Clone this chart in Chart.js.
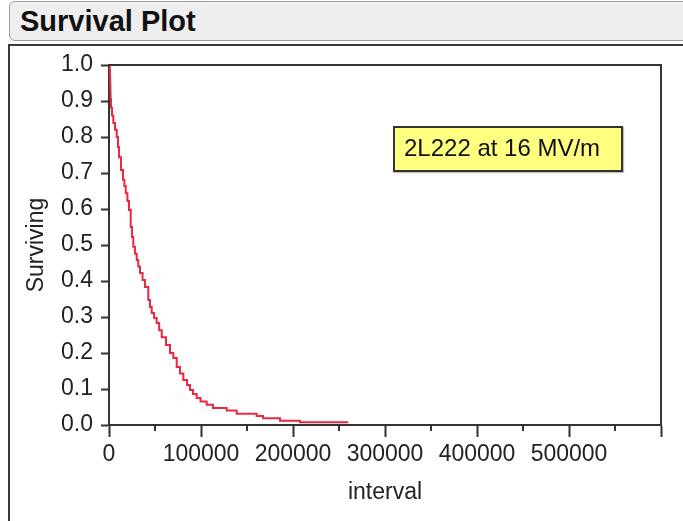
<!DOCTYPE html>
<html>
<head>
<meta charset="utf-8">
<script src="https://cdn.jsdelivr.net/npm/chart.js@4/dist/chart.umd.min.js"></script>
<style>
  html, body { margin: 0; padding: 0; background: #fff; }
  body { width: 683px; height: 521px; position: relative; overflow: hidden; font-family: "Liberation Sans", Arial, sans-serif; }
  .header {
    position: absolute; left: 9px; top: 1px; width: 700px; height: 40px;
    background: #eeeeee; border: 1px solid #9c9c9c; border-radius: 6px;
    font-weight: bold; font-size: 29px; line-height: 39px; color: #111;
    padding-left: 10px; box-sizing: border-box;
  }
  .frame {
    position: absolute; left: 8px; top: 44px; width: 720px; height: 520px;
    border-left: 2px solid #3a3a3a; border-top: 2px solid #3a3a3a;
  }
  .note {
    position: absolute; left: 393px; top: 126px; width: 230px; height: 46px;
    box-sizing: border-box; background: #ffff80; border: 2px solid #333;
    font-size: 24px; line-height: 40px; padding-left: 9px; color: #111;
    box-shadow: 1px 1px 1px rgba(0,0,0,0.25); white-space: nowrap;
  }
  canvas { position: absolute; left: 0; top: 0; }
</style>
</head>
<body>
<div class="header">Survival Plot</div>
<div class="frame"></div>
<canvas id="c" width="683" height="521"></canvas>
<div class="note">2L222 at 16 MV/m</div>
<script>
// Kaplan-Meier survival estimate against interval
const intervals = [0, 900, 1100, 1300, 1500, 1700, 2200, 3300, 4700, 6500, 8400, 9800, 10900, 13000, 15200,
  16700, 18200, 20000, 21700, 23600, 25000, 26400, 28200, 30100, 31800, 33700, 36500, 39100, 42700,
  44600, 46400, 49000, 51800, 54500, 57300, 62000, 66300, 69900, 73600, 77200, 80800, 84800, 88000,
  91300, 95300, 99500, 106200, 113000, 127900, 138800, 160500, 167400, 185900, 207600, 260100];
const surviving = [1.0, 0.985, 0.965, 0.945, 0.925, 0.905, 0.881, 0.86, 0.839, 0.82, 0.800, 0.772, 0.744,
  0.708, 0.681, 0.664, 0.644, 0.622, 0.597, 0.550, 0.522, 0.495, 0.476, 0.458, 0.44, 0.422, 0.403,
  0.383, 0.347, 0.328, 0.311, 0.297, 0.283, 0.263, 0.244, 0.222, 0.200, 0.186, 0.161, 0.143, 0.125,
  0.111, 0.097, 0.086, 0.075, 0.065, 0.056, 0.047, 0.040, 0.031, 0.025, 0.019, 0.012, 0.0075, 0.0075];
const xTicks = [0, 100000, 200000, 300000, 400000, 500000];
const yMin = 0, yMax = 1, xMin = 0, xMax = 600000;

const FONT = { family: '"Liberation Sans", Arial, sans-serif', size: 23 };
const INK = '#222';

const boxAndTicks = {
  id: 'boxAndTicks',
  afterDraw(chart) {
    const { ctx, chartArea: a, scales } = chart;
    ctx.save();
    ctx.strokeStyle = '#333';
    ctx.lineWidth = 2;
    // top and right edges of the plot frame
    ctx.beginPath();
    ctx.moveTo(a.left, a.top);
    ctx.lineTo(a.right, a.top);
    ctx.lineTo(a.right, a.bottom);
    ctx.stroke();
    // short minor ticks on the x axis
    const xs = scales.x;
    xs.ticks.forEach(t => {
      if (t.value % 100000 !== 0) {
        const px = Math.round(xs.getPixelForValue(t.value));
        ctx.beginPath();
        ctx.moveTo(px, a.bottom);
        ctx.lineTo(px, a.bottom + 6);
        ctx.stroke();
      }
    });
    ctx.restore();
  }
};

new Chart(document.getElementById('c'), {
  type: 'line',
  data: {
    datasets: [{
      data: intervals.map((x, i) => ({ x, y: surviving[i] })),
      borderColor: 'rgb(234, 40, 66)',
      borderWidth: 2,
      pointRadius: 0,
      stepped: 'before',
      fill: false
    }]
  },
  options: {
    responsive: false,
    devicePixelRatio: 1,
    animation: false,
    layout: { padding: { left: 0, top: 65, right: 22, bottom: 0 } },
    plugins: { legend: { display: false }, tooltip: { enabled: false } },
    scales: {
      x: {
        type: 'linear', min: xMin, max: xMax,
        afterFit(s) { s.height = 96; },
        grid: {
          drawOnChartArea: false, tickLength: 12, tickWidth: 2,
          tickColor: c => (c.tick && c.tick.value % 100000 === 0) ? '#333' : 'rgba(0,0,0,0)'
        },
        border: { color: '#333', width: 2 },
        ticks: {
          stepSize: 50000, autoSkip: false, maxRotation: 0, padding: 4,
          color: INK, font: FONT,
          callback: v => xTicks.includes(v) ? String(v) : ''
        },
        title: { display: true, text: 'interval', color: INK, font: FONT, padding: { top: 0, bottom: 15 } }
      },
      y: {
        min: yMin, max: yMax,
        afterFit(s) { s.width = 109; },
        grid: { drawOnChartArea: false, tickLength: 8, tickWidth: 2, tickColor: '#333' },
        border: { color: '#333', width: 2 },
        ticks: { stepSize: 0.1, color: INK, font: FONT, padding: 8, callback: v => v.toFixed(1) },
        title: { display: true, text: 'Surviving', color: INK, font: FONT, padding: { top: 23, bottom: 0 } }
      }
    }
  },
  plugins: [boxAndTicks]
});
</script>
</body>
</html>
